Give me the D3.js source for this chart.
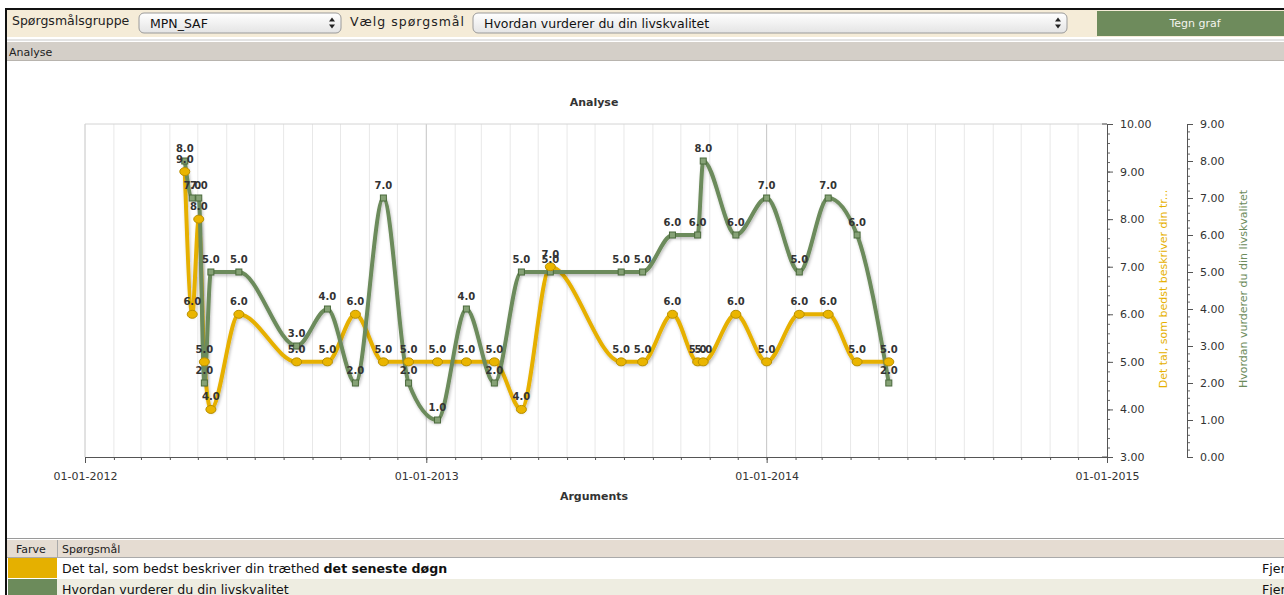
<!DOCTYPE html>
<html>
<head>
<meta charset="utf-8">
<script src="https://cdn.jsdelivr.net/npm/d3@7"></script>
<style>
  body { margin: 0; background: #fff; }
  svg text { font-family: "DejaVu Sans", Verdana, sans-serif; }
</style>
</head>
<body>
<svg width="1284" height="595"></svg>
<script>
// data
var dates = ["2012-04-17","2012-04-25","2012-05-02","2012-05-08","2012-05-15","2012-06-14",
  "2012-08-15","2012-09-17","2012-10-17","2012-11-16","2012-12-13","2013-01-13","2013-02-13",
  "2013-03-15","2013-04-13","2013-05-14","2013-07-29","2013-08-21","2013-09-22","2013-10-19",
  "2013-10-25","2013-11-29","2014-01-01","2014-02-05","2014-03-08","2014-04-08","2014-05-12"];
var traethed    = [9,6,8,5,4,6,5,5,6,5,5,5,5,5,4,7,5,5,6,5,5,6,5,6,6,5,5];
var livskvalitet = [8,7,7,2,5,5,3,4,2,7,2,1,4,2,5,5,5,5,6,6,8,6,7,5,7,6,2];
var yearTicks = ["2012-01-01","2013-01-01","2014-01-01","2015-01-01"];
var leftTicks  = [3,4,5,6,7,8,9,10];
var rightTicks = [0,1,2,3,4,5,6,7,8,9];
var seriesNames = ["Det tal, som bedst beskriver din tr...", "Hvordan vurderer du din livskvalitet"];

var YELLOW = "#e6b000", GREEN = "#6c8b5b";

var svg = d3.select("svg"),
    width = +svg.attr("width"),
    height = +svg.attr("height");

var parse = d3.timeParse("%Y-%m-%d");
var plot = {left: 85, right: 1107, top: 124, bottom: 457};

var x = d3.scaleTime()
  .domain([parse("2012-01-01"), parse("2015-01-01")])
  .range([plot.left, plot.right]);
var y1 = d3.scaleLinear().domain([3, 10]).range([plot.bottom, plot.top]);
var y2 = d3.scaleLinear().domain([0, 9]).range([plot.bottom, plot.top]);

var defs = svg.append("defs");
var grad = defs.append("linearGradient").attr("id", "sel").attr("x1", 0).attr("y1", 0).attr("x2", 0).attr("y2", 1);
grad.append("stop").attr("offset", "0%").attr("stop-color", "#ffffff");
grad.append("stop").attr("offset", "100%").attr("stop-color", "#e4e4e4");
defs.append("filter").attr("id", "shadow").attr("x", "-10%").attr("y", "-10%").attr("width", "120%").attr("height", "130%")
  .append("feDropShadow").attr("dx", 1).attr("dy", 2).attr("stdDeviation", 1.5)
  .attr("flood-color", "#000").attr("flood-opacity", 0.25);

// ---- toolbar ----
svg.append("rect").attr("x", 6).attr("y", 9).attr("width", width).attr("height", 28).attr("fill", "#f5ecd8");
svg.append("line").attr("x1", 5).attr("x2", width).attr("y1", 9).attr("y2", 9).attr("stroke", "#111").attr("stroke-width", 2);
svg.append("line").attr("x1", 6).attr("x2", 6).attr("y1", 8).attr("y2", height).attr("stroke", "#111").attr("stroke-width", 2);

svg.append("text").attr("x", 12).attr("y", 25).attr("font-size", 12.5).attr("fill", "#222").text("Spørgsmålsgruppe");
svg.append("text").attr("x", 350).attr("y", 26).attr("font-size", 12.5).attr("fill", "#222")
  .attr("textLength", 114).text("Vælg spørgsmål");

function selectBox(x0, w, label) {
  var g = svg.append("g");
  g.append("rect").attr("x", x0).attr("y", 13).attr("width", w).attr("height", 20).attr("rx", 5)
    .attr("fill", "url(#sel)").attr("stroke", "#9a9a9a");
  g.append("text").attr("x", x0 + 11).attr("y", 28).attr("font-size", 12.5).attr("fill", "#111").text(label);
  var ax = x0 + w - 9;
  g.append("path").attr("d", "M" + (ax - 3) + ",21.5L" + (ax + 3) + ",21.5L" + ax + ",17.5Z").attr("fill", "#222");
  g.append("path").attr("d", "M" + (ax - 3) + ",24.5L" + (ax + 3) + ",24.5L" + ax + ",28.5Z").attr("fill", "#222");
}
selectBox(139, 202, "MPN_SAF");
selectBox(473, 594, "Hvordan vurderer du din livskvalitet");

svg.append("rect").attr("x", 1097).attr("y", 11).attr("width", 187).attr("height", 25).attr("fill", "#6e8b5c");
svg.append("text").attr("x", 1195).attr("y", 27).attr("text-anchor", "middle").attr("font-size", 11)
  .attr("fill", "#f4f4ee").text("Tegn graf");

// ---- analyse band ----
svg.append("line").attr("x1", 7).attr("x2", width).attr("y1", 40).attr("y2", 40).attr("stroke", "#c8c8c8");
svg.append("rect").attr("x", 7).attr("y", 42).attr("width", width).attr("height", 18).attr("fill", "#d4cfc8");
svg.append("line").attr("x1", 7).attr("x2", width).attr("y1", 60.5).attr("y2", 60.5).attr("stroke", "#b8b4ae");
svg.append("text").attr("x", 9).attr("y", 56).attr("font-size", 11).attr("fill", "#222").text("Analyse");

// ---- chart ----
svg.append("text").attr("x", 594).attr("y", 106).attr("text-anchor", "middle").attr("font-size", 11)
  .attr("font-weight", "bold").attr("fill", "#333").text("Analyse");
svg.append("text").attr("x", 594).attr("y", 500).attr("text-anchor", "middle").attr("font-size", 11)
  .attr("font-weight", "bold").attr("fill", "#333").text("Arguments");

// grid
var months = d3.timeMonth.range(x.domain()[0], x.domain()[1]);
svg.append("g").selectAll("line").data(months).enter().append("line")
  .attr("x1", function(d) { return x(d); }).attr("x2", function(d) { return x(d); })
  .attr("y1", plot.top).attr("y2", plot.bottom)
  .attr("stroke", function(d) { return d.getMonth() === 0 ? "#c4c4c4" : "#e8e8e8"; })
  .attr("stroke-width", 1);
svg.append("line").attr("x1", plot.left).attr("x2", plot.right).attr("y1", plot.top).attr("y2", plot.top)
  .attr("stroke", "#d4d4d4");

// x axis
var fmtDate = d3.timeFormat("%d-%m-%Y");
svg.append("g").attr("transform", "translate(0," + plot.bottom + ")")
  .call(d3.axisBottom(x).tickValues(months).tickSize(3).tickFormat(""))
  .call(function(g) { g.select(".domain").remove(); g.selectAll("line").attr("stroke", "#555"); });
var gX = svg.append("g").attr("transform", "translate(0," + plot.bottom + ")")
  .call(d3.axisBottom(x).tickValues(yearTicks.map(parse)).tickSize(6).tickSizeOuter(0).tickPadding(9).tickFormat(fmtDate));
gX.selectAll("text").attr("font-size", 11).attr("fill", "#333").attr("font-family", "DejaVu Sans");
gX.selectAll("line").attr("stroke", "#555");
gX.select(".domain").attr("stroke", "#555");

// y axes
function yAxis(scale, xpos, ticks) {
  var minor = d3.range(scale.domain()[0], scale.domain()[1] + 0.001, 0.2);
  svg.append("g").attr("transform", "translate(" + xpos + ",0)")
    .call(d3.axisRight(scale).tickValues(minor).tickSize(3).tickFormat(""))
    .call(function(g) { g.select(".domain").remove(); g.selectAll("line").attr("stroke", "#666"); });
  var g = svg.append("g").attr("transform", "translate(" + xpos + ",0)")
    .call(d3.axisRight(scale).tickValues(ticks).tickSize(6).tickSizeOuter(5).tickPadding(7).tickFormat(d3.format(".2f")));
  g.selectAll("text").attr("font-size", 11).attr("fill", "#333").attr("font-family", "DejaVu Sans");
  g.selectAll("line").attr("stroke", "#555");
  g.select(".domain").attr("stroke", "#555");
}
yAxis(y1, plot.right, leftTicks);
yAxis(y2, 1187, rightTicks);
svg.append("line").attr("x1", plot.right - 5).attr("x2", plot.right).attr("y1", plot.top).attr("y2", plot.top).attr("stroke", "#555");
svg.append("line").attr("x1", plot.right - 5).attr("x2", plot.right).attr("y1", plot.bottom).attr("y2", plot.bottom).attr("stroke", "#555");

svg.append("text").attr("transform", "translate(1167,289) rotate(-90)").attr("text-anchor", "middle")
  .attr("font-size", 11).attr("font-family", "Liberation Sans").attr("fill", YELLOW).text(seriesNames[0]);
svg.append("text").attr("transform", "translate(1247,289) rotate(-90)").attr("text-anchor", "middle")
  .attr("font-size", 11).attr("font-family", "Liberation Sans").attr("fill", GREEN).text(seriesNames[1]);

// series
var s1 = dates.map(function(d, i) { return {d: parse(d), v: traethed[i]}; });
var s2 = dates.map(function(d, i) { return {d: parse(d), v: livskvalitet[i]}; });

var line1 = d3.line().curve(d3.curveMonotoneX).x(function(d) { return x(d.d); }).y(function(d) { return y1(d.v); });
var line2 = d3.line().curve(d3.curveMonotoneX).x(function(d) { return x(d.d); }).y(function(d) { return y2(d.v); });

svg.append("path").datum(s1).attr("d", line1).attr("fill", "none").attr("stroke", YELLOW)
  .attr("stroke-width", 4).attr("filter", "url(#shadow)");
svg.append("path").datum(s2).attr("d", line2).attr("fill", "none").attr("stroke", GREEN)
  .attr("stroke-width", 4).attr("filter", "url(#shadow)");

svg.append("g").selectAll("rect").data(s2).enter().append("rect")
  .attr("x", function(d) { return x(d.d) - 3; }).attr("y", function(d) { return y2(d.v) - 3; })
  .attr("width", 6).attr("height", 6).attr("fill", "#86a276").attr("stroke", "#4b6a3c").attr("stroke-width", 1);
svg.append("g").selectAll("ellipse").data(s1).enter().append("ellipse")
  .attr("cx", function(d) { return x(d.d); }).attr("cy", function(d) { return y1(d.v); })
  .attr("rx", 5).attr("ry", 4).attr("fill", "#eab500").attr("stroke", "#b88f00").attr("stroke-width", 1);

var fmtVal = d3.format(".1f");
function labels(data, scale) {
  svg.append("g").selectAll("text").data(data).enter().append("text")
    .attr("x", function(d) { return x(d.d); }).attr("y", function(d) { return scale(d.v) - 9; })
    .attr("text-anchor", "middle").attr("font-size", 10).attr("font-weight", "bold").attr("fill", "#333")
    .text(function(d) { return fmtVal(d.v); });
}
labels(s1, y1);
labels(s2, y2);

// ---- legend table ----
svg.append("line").attr("x1", 7).attr("x2", width).attr("y1", 538.5).attr("y2", 538.5).attr("stroke", "#9a9a9a");
svg.append("rect").attr("x", 7).attr("y", 540).attr("width", width).attr("height", 17).attr("fill", "#e5dcd2");
svg.append("line").attr("x1", 7).attr("x2", width).attr("y1", 557.5).attr("y2", 557.5).attr("stroke", "#aaa");
svg.append("line").attr("x1", 57.5).attr("x2", 57.5).attr("y1", 540).attr("y2", 557).attr("stroke", "#aaa");
svg.append("text").attr("x", 16).attr("y", 553).attr("font-size", 11).attr("fill", "#222").text("Farve");
svg.append("text").attr("x", 62).attr("y", 553).attr("font-size", 11).attr("fill", "#222").text("Spørgsmål");

var rows = [
  {color: "#e5b000", bg: "#ffffff", y: 558, h: 20, plain: "Det tal, som bedst beskriver din træthed ", bold: "det seneste døgn"},
  {color: "#6c8b5b", bg: "#eeede1", y: 579, h: 16, plain: "Hvordan vurderer du din livskvalitet", bold: ""}
];
var rg = svg.append("g").selectAll("g").data(rows).enter().append("g");
rg.append("rect").attr("x", 57).attr("y", function(d) { return d.y; }).attr("width", width).attr("height", function(d) { return d.h; })
  .attr("fill", function(d) { return d.bg; });
rg.append("rect").attr("x", 8).attr("y", function(d) { return d.y; }).attr("width", 49).attr("height", function(d) { return d.h; })
  .attr("fill", function(d) { return d.color; });
var rt = rg.append("text").attr("x", 62).attr("y", function(d) { return d.y + 15; }).attr("font-size", 12.6).attr("fill", "#111");
rt.append("tspan").text(function(d) { return d.plain; });
rt.append("tspan").attr("font-weight", "bold").text(function(d) { return d.bold; });
rg.append("text").attr("x", 1262).attr("y", function(d) { return d.y + 15; }).attr("font-size", 12.6).attr("fill", "#111").text("Fjern");
</script>
</body>
</html>
